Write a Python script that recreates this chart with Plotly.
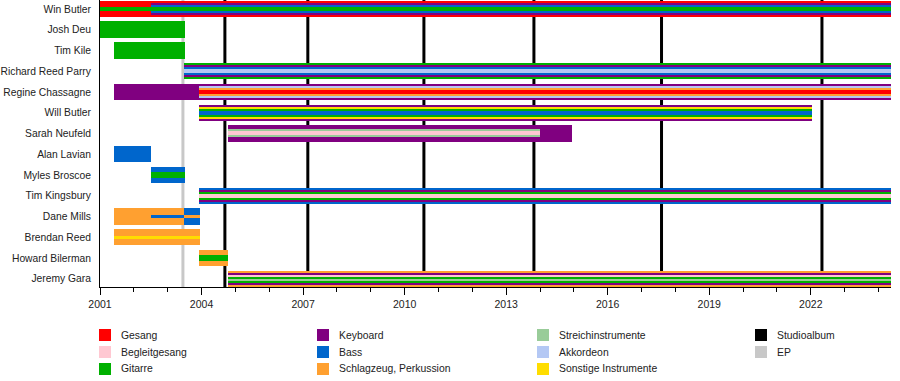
import plotly.graph_objects as go

# ---------------- data ----------------
MEMBERS = ["Win Butler", "Josh Deu", "Tim Kile", "Richard Reed Parry", "Regine Chassagne",
           "Will Butler", "Sarah Neufeld", "Alan Lavian", "Myles Broscoe", "Tim Kingsbury",
           "Dane Mills", "Brendan Reed", "Howard Bilerman", "Jeremy Gara"]

SEG_MEMBER = ["Win Butler", "Win Butler", "Josh Deu", "Tim Kile", "Richard Reed Parry",
              "Regine Chassagne", "Regine Chassagne", "Will Butler", "Sarah Neufeld", "Sarah Neufeld",
              "Alan Lavian", "Myles Broscoe", "Tim Kingsbury", "Dane Mills", "Dane Mills", "Dane Mills",
              "Brendan Reed", "Howard Bilerman", "Jeremy Gara"]
SEG_START = [2001.0, 2002.5, 2001.0, 2001.41, 2003.48,
             2001.41, 2003.92, 2003.92, 2004.78, 2014.0,
             2001.41, 2002.52, 2003.92, 2001.41, 2002.52, 2003.48,
             2001.41, 2003.92, 2004.78]
SEG_END = [2002.5, 2024.37, 2003.5, 2003.5, 2024.37,
           2003.92, 2024.37, 2022.03, 2014.0, 2014.94,
           2002.52, 2003.5, 2024.37, 2002.52, 2003.48, 2003.95,
           2003.95, 2004.78, 2024.37]
SEG_ROLES = [
    ["vocals", "vocals", "guitar", "vocals", "vocals"],
    ["vocals", "keyboard", "bass", "guitar", "guitar", "bass", "keyboard", "vocals"],
    ["guitar"],
    ["guitar"],
    ["guitar", "keyboard", "bass", "accordion", "accordion", "bass", "keyboard", "guitar"],
    ["keyboard"],
    ["keyboard", "accordion", "drums", "vocals", "vocals", "drums", "accordion", "keyboard"],
    ["keyboard", "other", "guitar", "bass", "bass", "guitar", "other", "keyboard"],
    ["keyboard", "keyboard", "strings", "backing", "backing", "strings", "keyboard", "keyboard"],
    ["keyboard"],
    ["bass"],
    ["bass", "guitar", "bass"],
    ["bass", "keyboard", "guitar", "backing", "backing", "guitar", "keyboard", "bass"],
    ["drums"],
    ["drums", "drums", "bass", "drums", "drums"],
    ["bass", "bass", "drums", "bass", "bass"],
    ["drums", "drums", "other", "drums", "drums"],
    ["drums", "guitar", "drums"],
    ["drums", "keyboard", "backing", "guitar", "strings", "guitar", "keyboard", "drums"],
]

STUDIO_ALBUMS = [2004.69, 2007.14, 2010.57, 2013.82, 2017.59, 2022.33]
EP_RELEASES = [2003.45]

TICK_YEARS = [2001, 2004, 2007, 2010, 2013, 2016, 2019, 2022]
X_RANGE = [2001.0, 2024.37]

LEGEND_KEYS = ["vocals", "backing", "guitar", "keyboard", "bass", "drums",
               "strings", "accordion", "other", "studio", "ep"]
LEGEND_LABELS = ["Gesang", "Begleitgesang", "Gitarre", "Keyboard", "Bass",
                 "Schlagzeug, Perkussion", "Streichinstrumente", "Akkordeon",
                 "Sonstige Instrumente", "Studioalbum", "EP"]

# ---------------- style ----------------
COLORS = {
    "vocals": "#ff0000", "backing": "#ffc8d2", "guitar": "#00b000",
    "keyboard": "#800080", "bass": "#0066cc", "drums": "#ffa030",
    "strings": "#99cc99", "accordion": "#b4c8f4", "other": "#ffdd00",
    "studio": "#000000", "ep": "#c8c8c8",
}
BAR_H = 0.78
W, H = 900, 381
ML, MR, MT, MB = 100, 9, 0, 94
PW, PH = W - ML - MR, H - MT - MB

row_of = {m: i for i, m in enumerate(MEMBERS)}

ys, xs, bases, widths, cols = [], [], [], [], []
for m, s, e, roles in zip(SEG_MEMBER, SEG_START, SEG_END, SEG_ROLES):
    r = row_of[m]
    n = len(roles)
    h = BAR_H / n
    top = r - BAR_H / 2
    for k, role in enumerate(roles):
        ys.append(top + h * (k + 0.5))
        xs.append(e - s)
        bases.append(s)
        widths.append(h * 1.02)
        cols.append(COLORS[role])

fig = go.Figure()
fig.add_trace(go.Bar(orientation="h", y=ys, x=xs, base=bases, width=widths,
                     marker=dict(color=cols, line=dict(width=0)),
                     showlegend=False, hoverinfo="skip", cliponaxis=False))

shapes = []
for xv in STUDIO_ALBUMS:
    shapes.append(dict(type="line", xref="x", yref="paper", x0=xv, x1=xv, y0=0, y1=1,
                       line=dict(color=COLORS["studio"], width=3), layer="below"))
for xv in EP_RELEASES:
    shapes.append(dict(type="line", xref="x", yref="paper", x0=xv, x1=xv, y0=0, y1=1,
                       line=dict(color=COLORS["ep"], width=3), layer="below"))

# manual legend (column-major, 3 rows)
col_px = [99, 317, 537, 755]
row_py = [335, 352, 369]
annotations = []
for i, (key, lab) in enumerate(zip(LEGEND_KEYS, LEGEND_LABELS)):
    c, rr = divmod(i, 3)
    px, py = col_px[c], row_py[rr]
    x0 = (px - ML) / PW
    x1 = (px + 12 - ML) / PW
    y0 = (PH - (py + 6 - MT)) / PH
    y1 = (PH - (py - 6 - MT)) / PH
    shapes.append(dict(type="rect", xref="paper", yref="paper", x0=x0, x1=x1, y0=y0, y1=y1,
                       fillcolor=COLORS[key], line=dict(width=0)))
    annotations.append(dict(xref="paper", yref="paper", x=(px + 20 - ML) / PW,
                            y=(PH - (py - MT)) / PH, text=lab, showarrow=False,
                            xanchor="left", yanchor="middle",
                            font=dict(size=10.4, color="#222222")))

fig.update_layout(
    width=W, height=H,
    margin=dict(l=ML, r=MR, t=MT, b=MB, autoexpand=False),
    paper_bgcolor="white", plot_bgcolor="white",
    barmode="overlay", bargap=0,
    font=dict(family="Liberation Sans, Arial, sans-serif", size=10.5, color="#222222"),
    shapes=shapes, annotations=annotations,
    showlegend=False, hovermode=False,
)
fig.update_xaxes(range=X_RANGE, tickvals=TICK_YEARS, ticktext=[str(y) for y in TICK_YEARS],
                 ticks="outside", ticklen=7, tickwidth=1, tickcolor="black",
                 minor=dict(dtick=1, tick0=2001, ticks="outside", ticklen=4, tickcolor="black"),
                 showline=True, linecolor="black", linewidth=1, automargin=False,
                 showgrid=False, zeroline=False, tickfont=dict(size=10.5, color="#222222"))
fig.update_yaxes(range=[13.4, -0.43], tickvals=list(range(len(MEMBERS))), ticktext=MEMBERS,
                 ticks="", showline=True, linecolor="black", linewidth=1, automargin=False,
                 showgrid=False, zeroline=False, ticklabelstandoff=6,
                 tickfont=dict(size=10.3, color="#222222"))

fig.write_html("out.html", config={"displayModeBar": False, "staticPlot": True},
               post_script="document.body.style.margin='0';document.body.style.overflow='hidden';")
